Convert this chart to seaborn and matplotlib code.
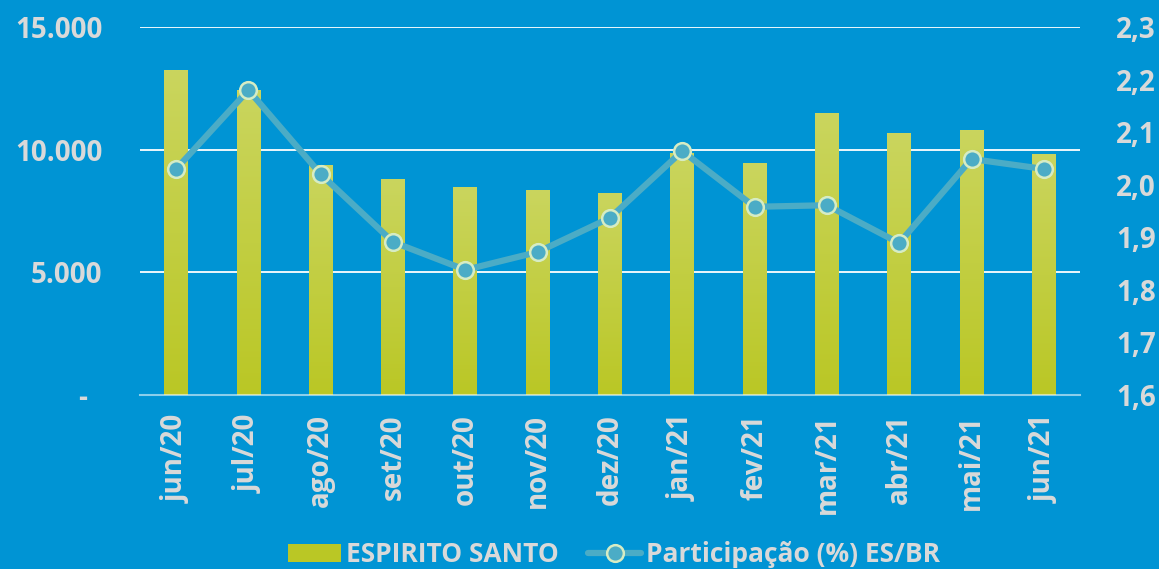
import numpy as np
import pandas as pd
import matplotlib
matplotlib.use("Agg")
import matplotlib.pyplot as plt
import seaborn as sns
from matplotlib.lines import Line2D
from matplotlib.patches import Patch

# Data
months = ["jun/20", "jul/20", "ago/20", "set/20", "out/20", "nov/20", "dez/20",
          "jan/21", "fev/21", "mar/21", "abr/21", "mai/21", "jun/21"]
es_values = [13240, 12430, 9370, 8800, 8480, 8350, 8230,
             9860, 9450, 11490, 10680, 10800, 9820]
share_es_br = [2.030, 2.180, 2.020, 1.891, 1.838, 1.872, 1.937,
               2.064, 1.958, 1.961, 1.889, 2.049, 2.030]

left_ticks = [0, 5000, 10000, 15000]
left_labels = ["-  ", "5.000", "10.000", "15.000"]
right_ticks = [1.6, 1.7, 1.8, 1.9, 2.0, 2.1, 2.2, 2.3]
right_labels = ["1,6", "1,7", "1,8", "1,9", "2,0", "2,1", "2,2", "2,3"]

BG = "#0094D4"
TXT = "#D9D9D9"
LINE = "#4BACC6"
BAR_TOP = "#CAD55E"
BAR_BOT = "#BAC725"

sns.set_style("white")
plt.rcParams["font.family"] = ["Open Sans", "DejaVu Sans"]
plt.rcParams["font.weight"] = "bold"

df = pd.DataFrame({"month": months, "es": es_values, "share": share_es_br})

fig = plt.figure(figsize=(11.59, 5.69), dpi=100, facecolor=BG)
ax = fig.add_axes([0.1208, 0.3058, 0.811, 0.6467])
ax.set_facecolor(BG)

sns.barplot(data=df, x="month", y="es", color=BAR_BOT, width=0.33,
            saturation=1, linewidth=0, edgecolor="none", ax=ax, zorder=2)

# vertical gradient on each bar
grad = np.linspace(0, 1, 256).reshape(-1, 1)
cmap = matplotlib.colors.LinearSegmentedColormap.from_list("g", [BAR_BOT, BAR_TOP])
for p in ax.patches:
    x0, y0 = p.get_x(), p.get_y()
    w, h = p.get_width(), p.get_height()
    im = ax.imshow(grad, cmap=cmap, aspect="auto", origin="lower",
                   extent=[x0, x0 + w, y0, y0 + h], zorder=2.1)
    im.set_clip_path(p)

ax.set_xlim(-0.5, 12.5)
ax.set_ylim(0, 15000)
ax.set_yticks(left_ticks)
ax.set_yticklabels(left_labels)
for y in [5000, 10000, 15000]:
    ax.axhline(y, color="white", lw=1.3, zorder=1)
for s in ["top", "left", "right"]:
    ax.spines[s].set_visible(False)
ax.spines["bottom"].set_color((1, 1, 1, 0.55))
ax.spines["bottom"].set_linewidth(1.5)
ax.set_xlabel("")
ax.set_ylabel("")
ax.tick_params(axis="y", length=0, pad=27, labelsize=20, labelcolor=TXT)
ax.tick_params(axis="x", length=0, pad=14, labelsize=20, labelcolor=TXT,
               labelrotation=90)

ax2 = ax.twinx()
sns.lineplot(x=np.arange(len(months)), y=share_es_br, ax=ax2, color=LINE,
             lw=4.5, marker="o", markersize=12, markerfacecolor=LINE,
             markeredgecolor="#D6ECC4", markeredgewidth=1.8, zorder=3)
ax2.set_ylim(1.6, 2.3)
ax2.set_yticks(right_ticks)
ax2.set_yticklabels(right_labels)
ax2.tick_params(axis="y", length=0, pad=26, labelsize=20, labelcolor=TXT)
for s in ax2.spines.values():
    s.set_visible(False)
ax2.set_ylabel("")

handles = [Patch(facecolor=BAR_BOT, edgecolor="none"),
           Line2D([0], [0], color=LINE, lw=4.5, marker="o", markersize=12,
                  markerfacecolor=LINE, markeredgecolor="#D6ECC4",
                  markeredgewidth=1.8)]
leg = fig.legend(handles, ["ESPIRITO SANTO", "Participação (%) ES/BR"],
                 loc="lower center", bbox_to_anchor=(0.53, -0.04), ncol=2,
                 frameon=False, fontsize=19, handlelength=2.0,
                 handleheight=0.7, columnspacing=1.1, handletextpad=0.2)
for t in leg.get_texts():
    t.set_color(TXT)

fig.savefig("out.png", dpi=100, facecolor=BG)
